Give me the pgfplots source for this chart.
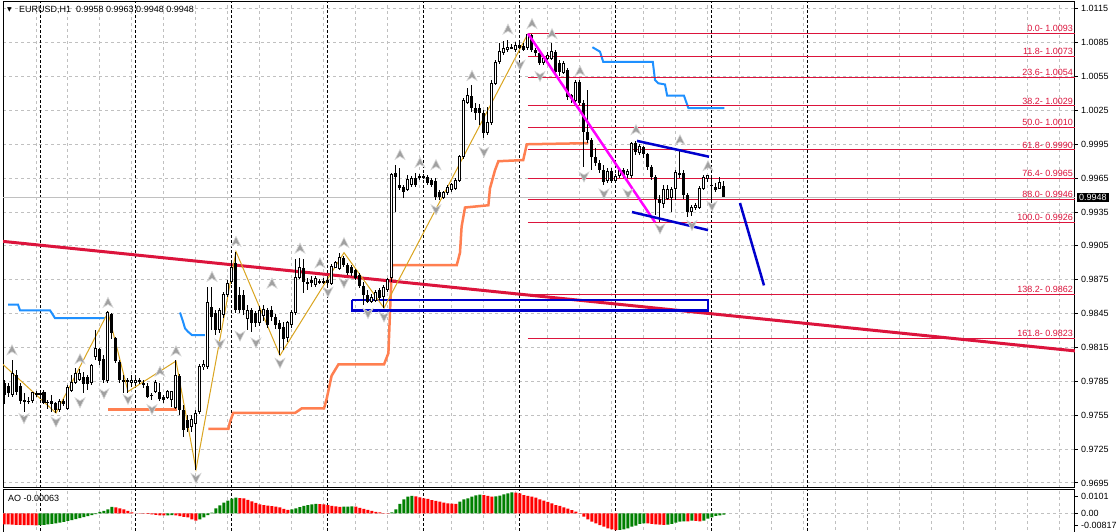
\documentclass[border=0pt]{standalone}
\usepackage{pgfplots}
\pgfplotsset{compat=1.18}
\usepackage{pgfplotstable}
\usepackage{fontspec}
\setmainfont{Liberation Sans}
\newfontfamily\symfont{DejaVu Sans}

\definecolor{crim}{RGB}{220,20,60}
\definecolor{mtblue}{RGB}{0,0,205}
\definecolor{dblue}{RGB}{30,144,255}
\definecolor{coralc}{RGB}{255,127,80}
\definecolor{zigzag}{RGB}{218,165,32}
\definecolor{mag}{RGB}{255,0,255}
\definecolor{gridc}{RGB}{192,192,192}
\definecolor{aogreen}{RGB}{0,128,0}
\definecolor{aored}{RGB}{255,0,0}
\definecolor{fracfill}{RGB}{160,160,160}
\definecolor{fracline}{RGB}{215,215,215}

\pgfdeclareplotmark{fup}{%
  \pgfpathmoveto{\pgfqpoint{0pt}{5pt}}%
  \pgfpathlineto{\pgfqpoint{5pt}{-5pt}}%
  \pgfpathlineto{\pgfqpoint{0pt}{-2pt}}%
  \pgfpathlineto{\pgfqpoint{-5pt}{-5pt}}%
  \pgfpathclose\pgfusepathqfillstroke}
\pgfdeclareplotmark{fdown}{%
  \pgfpathmoveto{\pgfqpoint{0pt}{-5pt}}%
  \pgfpathlineto{\pgfqpoint{5pt}{5pt}}%
  \pgfpathlineto{\pgfqpoint{0pt}{2pt}}%
  \pgfpathlineto{\pgfqpoint{-5pt}{5pt}}%
  \pgfpathclose\pgfusepathqfillstroke}

% EURUSD H1 candles: bar index, open, high, low, close
\pgfplotstableread{
k o h l c
0 0.9784 0.9786 0.9765 0.9773
1 0.9781 0.9784 0.9771 0.9775
2 0.9773 0.9804 0.9771 0.9792
3 0.9791 0.9795 0.9773 0.9776
4 0.9781 0.9784 0.9765 0.9768
5 0.9769 0.9775 0.9758 0.9767
6 0.9768 0.9771 0.9765 0.9767
7 0.9768 0.9776 0.9766 0.9775
8 0.9775 0.9777 0.9771 0.9773
9 0.9775 0.9777 0.9769 0.9773
10 0.9776 0.9777 0.9765 0.9766
11 0.9767 0.9769 0.9761 0.9766
12 0.9768 0.9773 0.9758 0.9765
13 0.9766 0.9767 0.9757 0.9760
14 0.9760 0.9769 0.9758 0.9767
15 0.9768 0.9769 0.9763 0.9765
16 0.9761 0.9782 0.9760 0.9780
17 0.9777 0.9791 0.9776 0.9784
18 0.9784 0.9797 0.9783 0.9792
19 0.9787 0.9796 0.9785 0.9792
20 0.9789 0.9793 0.9775 0.9783
21 0.9789 0.9791 0.9777 0.9783
22 0.9784 0.9800 0.9782 0.9799
23 0.9807 0.9831 0.9804 0.9814
24 0.9814 0.9815 0.9800 0.9803
25 0.9805 0.9808 0.9784 0.9786
26 0.9786 0.9847 0.9784 0.9846
27 0.9845 0.9846 0.9823 0.9828
28 0.9823 0.9824 0.9801 0.9803
29 0.9802 0.9804 0.9784 0.9786
30 0.9786 0.9791 0.9775 0.9785
31 0.9785 0.9788 0.9775 0.9786
32 0.9784 0.9791 0.9780 0.9786
33 0.9784 0.9789 0.9781 0.9786
34 0.9785 0.9788 0.9783 0.9786
35 0.9784 0.9786 0.9779 0.9782
36 0.9781 0.9784 0.9770 0.9771
37 0.9773 0.9775 0.9769 0.9772
38 0.9776 0.9786 0.9775 0.9784
39 0.9776 0.9784 0.9768 0.9769
40 0.9771 0.9773 0.9766 0.9769
41 0.9771 0.9777 0.9769 0.9776
42 0.9769 0.9777 0.9762 0.9776
43 0.9762 0.9804 0.9761 0.9790
44 0.9790 0.9792 0.9755 0.9760
45 0.9760 0.9764 0.9736 0.9742
46 0.9751 0.9755 0.9740 0.9744
47 0.9745 0.9755 0.9740 0.9751
48 0.9748 0.9760 0.9707 0.9757
49 0.9758 0.9800 0.9756 0.9798
50 0.9798 0.9804 0.9795 0.9800
51 0.9798 0.9869 0.9796 0.9855
52 0.9851 0.9869 0.9831 0.9842
53 0.9846 0.9848 0.9826 0.9831
54 0.9831 0.9850 0.9828 0.9848
55 0.9844 0.9864 0.9841 0.9862
56 0.9862 0.9875 0.9860 0.9872
57 0.9873 0.9893 0.9871 0.9886
58 0.9890 0.9900 0.9846 0.9848
59 0.9862 0.9869 0.9846 0.9848
60 0.9862 0.9866 0.9844 0.9848
61 0.9841 0.9853 0.9831 0.9848
62 0.9848 0.9850 0.9829 0.9837
63 0.9846 0.9847 0.9833 0.9837
64 0.9837 0.9852 0.9834 0.9848
65 0.9843 0.9853 0.9839 0.9849
66 0.9848 0.9850 0.9832 0.9835
67 0.9848 0.9852 0.9839 0.9842
68 0.9842 0.9845 0.9831 0.9835
69 0.9837 0.9839 0.9808 0.9831
70 0.9833 0.9838 0.9813 0.9823
71 0.9824 0.9839 0.9820 0.9837
72 0.9835 0.9848 0.9832 0.9846
73 0.9846 0.9893 0.9844 0.9877
74 0.9877 0.9894 0.9876 0.9886
75 0.9885 0.9893 0.9863 0.9873
76 0.9873 0.9877 0.9866 0.9872
77 0.9875 0.9878 0.9869 0.9872
78 0.9871 0.9878 0.9869 0.9876
79 0.9874 0.9876 0.9871 0.9873
80 0.9874 0.9877 0.9871 0.9873
81 0.9875 0.9877 0.9869 0.9872
82 0.9872 0.9889 0.9870 0.9887
83 0.9886 0.9892 0.9885 0.9890
84 0.9885 0.9899 0.9884 0.9895
85 0.9894 0.9896 0.9886 0.9888
86 0.9888 0.9890 0.9879 0.9881
87 0.9886 0.9888 0.9878 0.9881
88 0.9884 0.9885 0.9875 0.9877
89 0.9879 0.9881 0.9868 0.9870
90 0.9870 0.9873 0.9853 0.9862
91 0.9862 0.9866 0.9854 0.9855
92 0.9856 0.9862 0.9854 0.9859
93 0.9857 0.9866 0.9855 0.9864
94 0.9866 0.9868 0.9857 0.9859
95 0.9860 0.9870 0.9850 0.9868
96 0.9866 0.9877 0.9864 0.9875
97 0.9877 0.9970 0.9873 0.9968
98 0.9970 0.9977 0.9935 0.9966
99 0.9959 0.9974 0.9955 0.9956
100 0.9957 0.9959 0.9947 0.9953
101 0.9955 0.9968 0.9954 0.9964
102 0.9959 0.9967 0.9957 0.9965
103 0.9965 0.9970 0.9957 0.9959
104 0.9967 0.9969 0.9963 0.9966
105 0.9966 0.9969 0.9964 0.9967
106 0.9966 0.9968 0.9959 0.9961
107 0.9963 0.9965 0.9957 0.9959
108 0.9963 0.9965 0.9946 0.9948
109 0.9953 0.9955 0.9946 0.9948
110 0.9948 0.9954 0.9947 0.9952
111 0.9952 0.9959 0.9950 0.9957
112 0.9955 0.9961 0.9953 0.9959
113 0.9956 0.9965 0.9955 0.9963
114 0.9963 0.9986 0.9962 0.9984
115 0.9984 1.0036 0.9982 1.0034
116 1.0032 1.0045 1.0031 1.0038
117 1.0038 1.0048 1.0024 1.0027
118 1.0027 1.0032 1.0017 1.0023
119 1.0027 1.0031 1.0012 1.0023
120 1.0023 1.0025 1.0001 1.0005
121 1.0005 1.0028 1.0003 1.0014
122 1.0014 1.0052 1.0012 1.0049
123 1.0049 1.0070 1.0048 1.0068
124 1.0068 1.0085 1.0066 1.0077
125 1.0076 1.0087 1.0074 1.0080
126 1.0079 1.0087 1.0077 1.0081
127 1.0080 1.0084 1.0079 1.0081
128 1.0079 1.0086 1.0077 1.0083
129 1.0083 1.0085 1.0079 1.0080
130 1.0082 1.0085 1.0078 1.0079
131 1.0081 1.0093 1.0079 1.0092
132 1.0092 1.0093 1.0077 1.0079
133 1.0079 1.0080 1.0073 1.0076
134 1.0076 1.0078 1.0065 1.0067
135 1.0067 1.0073 1.0065 1.0071
136 1.0071 1.0077 1.0070 1.0074
137 1.0071 1.0085 1.0070 1.0077
138 1.0077 1.0079 1.0056 1.0059
139 1.0067 1.0070 1.0056 1.0059
140 1.0059 1.0069 1.0057 1.0067
141 1.0061 1.0063 1.0034 1.0037
142 1.0039 1.0040 1.0032 1.0036
143 1.0034 1.0052 1.0032 1.0050
144 1.0050 1.0052 1.0030 1.0032
145 1.0032 1.0034 0.9975 1.0006
146 1.0006 1.0043 0.9996 0.9999
147 0.9999 1.0001 0.9972 0.9984
148 0.9984 0.9992 0.9976 0.9978
149 0.9978 0.9981 0.9970 0.9972
150 0.9972 0.9977 0.9959 0.9962
151 0.9963 0.9974 0.9961 0.9971
152 0.9971 0.9974 0.9961 0.9963
153 0.9963 0.9969 0.9962 0.9967
154 0.9967 0.9974 0.9965 0.9972
155 0.9972 0.9974 0.9965 0.9968
156 0.9968 0.9973 0.9965 0.9971
157 0.9967 0.9997 0.9965 0.9996
158 0.9996 0.9998 0.9986 0.9988
159 0.9988 0.9995 0.9986 0.9993
160 0.9993 0.9994 0.9983 0.9986
161 0.9986 0.9987 0.9972 0.9975
162 0.9975 0.9977 0.9963 0.9966
163 0.9966 0.9968 0.9932 0.9947
164 0.9947 0.9950 0.9926 0.9943
165 0.9943 0.9959 0.9939 0.9955
166 0.9947 0.9959 0.9946 0.9955
167 0.9948 0.9957 0.9935 0.9955
168 0.9956 0.9972 0.9946 0.9970
169 0.9970 0.9990 0.9965 0.9968
170 0.9970 0.9972 0.9947 0.9950
171 0.9950 0.9952 0.9931 0.9935
172 0.9935 0.9941 0.9932 0.9939
173 0.9939 0.9943 0.9937 0.9941
174 0.9939 0.9958 0.9938 0.9956
175 0.9956 0.9968 0.9955 0.9966
176 0.9965 0.9968 0.9962 0.9967
177 0.9959 0.9966 0.9946 0.9958
178 0.9957 0.9961 0.9953 0.9955
179 0.9956 0.9966 0.9955 0.9961
180 0.9958 0.9963 0.9948 0.9948
}\candles

% Awesome Oscillator: value, up=1 green / 0 red
\pgfplotstableread{
k v up
0 -0.00521 0
1 -0.00531 0
2 -0.00540 0
3 -0.00545 0
4 -0.00550 0
5 -0.00555 0
6 -0.00559 0
7 -0.00564 0
8 -0.00569 0
9 -0.00559 1
10 -0.00545 1
11 -0.00521 1
12 -0.00498 1
13 -0.00474 1
14 -0.00441 1
15 -0.00403 1
16 -0.00365 1
17 -0.00322 1
18 -0.00275 1
19 -0.00228 1
20 -0.00180 1
21 -0.00133 1
22 -0.00085 1
23 -0.00038 1
24 0.00071 1
25 0.00119 1
26 0.00190 1
27 0.00308 1
28 0.00284 0
29 0.00237 0
30 0.00190 0
31 0.00109 0
32 0.00038 0
33 -0.00009 0
34 -0.00014 0
35 -0.00019 0
36 -0.00024 0
37 -0.00047 0
38 -0.00076 0
39 -0.00095 0
40 -0.00104 0
41 -0.00095 1
42 -0.00085 1
43 -0.00104 0
44 -0.00133 0
45 -0.00166 0
46 -0.00199 0
47 -0.00284 0
48 -0.00346 0
49 -0.00284 1
50 -0.00190 1
51 -0.00081 1
52 0.00033 1
53 0.00237 1
54 0.00379 1
55 0.00507 1
56 0.00602 1
57 0.00697 1
58 0.00744 1
59 0.00725 0
60 0.00702 0
61 0.00640 0
62 0.00569 0
63 0.00498 0
64 0.00427 0
65 0.00389 0
66 0.00360 0
67 0.00341 0
68 0.00318 0
69 0.00275 0
70 0.00213 0
71 0.00166 0
72 0.00180 1
73 0.00237 1
74 0.00294 1
75 0.00346 1
76 0.00389 1
77 0.00427 1
78 0.00450 1
79 0.00436 0
80 0.00417 0
81 0.00389 0
82 0.00356 0
83 0.00327 0
84 0.00308 0
85 0.00313 1
86 0.00322 1
87 0.00332 1
88 0.00322 0
89 0.00261 0
90 0.00213 0
91 0.00166 0
92 0.00119 0
93 0.00071 0
94 0.00038 0
95 0.00014 0
96 0.00005 0
97 0.00047 1
98 0.00190 1
99 0.00441 1
100 0.00664 1
101 0.00787 1
102 0.00820 1
103 0.00806 0
104 0.00758 0
105 0.00711 0
106 0.00687 0
107 0.00630 0
108 0.00583 0
109 0.00550 0
110 0.00502 0
111 0.00474 0
112 0.00455 0
113 0.00441 0
114 0.00550 1
115 0.00664 1
116 0.00711 1
117 0.00787 1
118 0.00853 1
119 0.00882 1
120 0.00867 0
121 0.00820 0
122 0.00787 0
123 0.00801 1
124 0.00834 1
125 0.00901 1
126 0.00948 1
127 0.00995 1
128 0.00976 0
129 0.00948 0
130 0.00867 0
131 0.00820 0
132 0.00787 0
133 0.00739 0
134 0.00664 0
135 0.00597 0
136 0.00536 0
137 0.00474 0
138 0.00393 0
139 0.00346 0
140 0.00284 0
141 0.00218 0
142 0.00156 0
143 0.00076 0
144 -0.00014 0
145 -0.00161 0
146 -0.00284 0
147 -0.00398 0
148 -0.00474 0
149 -0.00555 0
150 -0.00635 0
151 -0.00711 0
152 -0.00758 0
153 -0.00792 0
154 -0.00782 1
155 -0.00758 1
156 -0.00711 1
157 -0.00635 1
158 -0.00588 1
159 -0.00507 1
160 -0.00474 1
161 -0.00483 0
162 -0.00507 0
163 -0.00521 0
164 -0.00540 0
165 -0.00545 0
166 -0.00536 1
167 -0.00507 1
168 -0.00446 1
169 -0.00398 1
170 -0.00379 1
171 -0.00384 0
172 -0.00351 1
173 -0.00356 0
174 -0.00379 0
175 -0.00351 1
176 -0.00256 1
177 -0.00190 1
178 -0.00128 1
179 -0.00095 1
180 -0.00063 1
}\ao

% fractal arrows
\pgfplotstableread{
k p
2 0.9813
19 0.9805
26 0.9855
39 0.9794
43 0.9812
52 0.9878
58 0.9909
67 0.9872
74 0.9903
79 0.9890
85 0.9908
99 0.9986
104 0.9979
108 0.9977
117 1.0056
126 1.0097
132 1.0102
137 1.0093
144 1.0060
158 1.0008
169 0.9999
176 0.9976
}\fracup
\pgfplotstableread{
k p
5 0.9752
13 0.9749
19 0.9766
25 0.9774
31 0.9769
37 0.9760
48 0.9699
54 0.9818
59 0.9825
63 0.9819
69 0.9801
81 0.9864
85 0.9872
91 0.9845
95 0.9842
108 0.9937
120 0.9988
129 1.0065
134 1.0055
145 0.9966
150 0.9951
156 0.9951
164 0.9920
172 0.9923
177 0.9940
}\fracdn

\pgfplotsset{
  mtaxis/.style={
    scale only axis, anchor=south west,
    xmin=-0.25, xmax=267.75,
    axis line style={black, line width=1pt},
    xtick={8,16,...,264}, xticklabels={},
    xtick style={draw=none},
    extra x ticks={9,33,...,201}, extra x tick labels={},
    extra x tick style={xmajorgrids=true,
      major grid style={black, line width=1pt, dash pattern=on 3pt off 2pt}},
    ytick pos=right, yticklabel pos=right,
    tick align=outside, major tick length=3pt,
    ytick style={black, line width=1pt},
    xmajorgrids=true,
    major grid style={gridc, line width=1pt, dash pattern=on 3pt off 3pt},
    ticklabel style={font=\fontsize{9}{10}\selectfont},
    yticklabel style={inner sep=0pt, xshift=3pt},
    scaled y ticks=false,
  },
  candlebar/.style={draw=none, forget plot,
    /pgfplots/error bars/y dir=both,
    /pgfplots/error bars/y explicit,
    /pgfplots/error bars/error mark=none,
    /pgfplots/error bars/error bar style={#1}},
}

\begin{document}
\begin{tikzpicture}[x=1pt,y=1pt]
\useasboundingbox (0,0) rectangle (1117,532);
\fill[white] (0,0) rectangle (1117,532);

\begin{axis}[mtaxis,
  at={(3pt,44.3pt)}, width=1072pt, height=485.7pt,
  ymin=0.969084, ymax=1.012103,
  ymajorgrids=true,
  ytick={0.9695,0.9725,0.9755,0.9785,0.9815,0.9845,0.9875,0.9905,0.9935,0.9965,0.9995,1.0025,1.0055,1.0085,1.0115},
  yticklabel style={/pgf/number format/.cd, fixed, fixed zerofill, precision=4, assume math mode=true},
]
% bid line
\addplot[gridc, line width=1pt] coordinates {(-0.25,0.9948) (267.75,0.9948)};
% step indicators
\addplot[dblue, line width=2pt] coordinates {(1,0.9853) (3.5,0.9853) (4,0.9848) (11.5,0.9848) (12.75,0.9841) (25.25,0.9841)};
\addplot[dblue, line width=2pt] coordinates {(44,0.9846) (44.75,0.9838) (45.25,0.9832) (46,0.9829) (47,0.9826) (50.25,0.9826)};
\addplot[dblue, line width=2pt] coordinates {(147.1,1.0081) (149,1.0077) (149.8,1.0068) (162.2,1.0068) (162.75,1.0052) (163.6,1.0049) (165.25,1.0048) (165.8,1.0038) (170,1.0038) (171.1,1.0027) (180.1,1.0027)};
\addplot[coralc, line width=2.5pt] coordinates {(26.1,0.9760) (43.2,0.9760)};
\addplot[coralc, line width=2.5pt] coordinates {(51.1,0.9743) (56.1,0.9743) (56.5,0.9749) (57.3,0.9757) (72.75,0.9757) (74.4,0.9761) (80,0.9761) (80.7,0.9770) (81.9,0.9790) (83.6,0.9800) (95,0.9800) (96.1,0.9810) (96.5,0.9846) (97,0.9888) (113.2,0.9888) (114,0.9899) (114.4,0.9922) (115.25,0.9939) (121.1,0.9941) (121.5,0.9956) (122.75,0.9972) (123.6,0.9980) (129.8,0.9981) (130.7,0.9995) (146.1,0.9996)};
% long trend line
\addplot[crim, line width=3pt] coordinates {(-0.25,0.9909) (267.75,0.9812)};
% fibonacci levels
\foreach \lev/\txt in {1.0093/0.0- 1.0093, 1.0073/11.8- 1.0073, 1.0054/23.6- 1.0054,
  1.0029/38.2- 1.0029, 1.0010/50.0- 1.0010, 0.9990/61.8- 0.9990, 0.9965/76.4- 0.9965,
  0.9946/88.0- 0.9946, 0.9926/100.0- 0.9926, 0.9862/138.2- 0.9862, 0.9823/161.8- 0.9823}{
  \edef\temp{\noexpand\addplot[crim, line width=1pt] coordinates {(131,\lev) (267.75,\lev)};
    \noexpand\node[anchor=south east, inner sep=0pt, text=crim, font=\noexpand\fontsize{9}{10}\noexpand\selectfont]
      at (axis cs:267.3,\lev) [yshift=1.5pt] {\txt};}
  \temp
}
% zone rectangle
\addplot[mtblue, line width=2.5pt] coordinates {(87,0.9857) (176,0.9857) (176,0.9848) (87,0.9848) (87,0.9857)};
% zigzag
\addplot[zigzag, line width=1pt] coordinates {(-0.25,0.9800) (13,0.9757) (26,0.9846) (31,0.9776) (43,0.9803) (48,0.9707) (58,0.9900) (69,0.9808) (85,0.9899) (95,0.9850) (131,1.0093)};
% candles: wicks
\addplot[candlebar={draw=black, line width=1pt}]
  table[x=k, y expr={(\thisrow{h}+\thisrow{l})/2}, y error expr={(\thisrow{h}-\thisrow{l})/2}] {\candles};
% bearish bodies
\addplot[candlebar={draw=black, line width=3pt},
  restrict expr to domain={\thisrow{o}-\thisrow{c}}{0:1}]
  table[x=k, y expr={(\thisrow{o}+\thisrow{c})/2}, y error expr={max(abs(\thisrow{o}-\thisrow{c})/2,0.00005)}] {\candles};
% bullish bodies: outline then white fill
\addplot[candlebar={draw=black, line width=3pt},
  restrict expr to domain={\thisrow{c}-\thisrow{o}}{0.00001:1}]
  table[x=k, y expr={(\thisrow{o}+\thisrow{c})/2}, y error expr={(\thisrow{c}-\thisrow{o})/2+0.00004}] {\candles};
\addplot[candlebar={draw=white, line width=1pt},
  restrict expr to domain={\thisrow{c}-\thisrow{o}}{0.00019:1}]
  table[x=k, y expr={(\thisrow{o}+\thisrow{c})/2}, y error expr={(\thisrow{c}-\thisrow{o})/2-0.00005}] {\candles};
% magenta swing line and channel
\addplot[mag, line width=2.5pt] coordinates {(131,1.0093) (162.75,0.9926)};
\addplot[mtblue, line width=2.5pt] coordinates {(158.25,0.9998) (176.25,0.9984)};
\addplot[mtblue, line width=2.5pt] coordinates {(157,0.9935) (176,0.9919)};
\addplot[mtblue, line width=2.5pt] coordinates {(184,0.9943) (190,0.9870)};
% fractals
\addplot[only marks, mark=fup, mark options={fill=fracfill, draw=fracline, line width=0.6pt}] table[x=k, y=p] {\fracup};
\addplot[only marks, mark=fdown, mark options={fill=fracfill, draw=fracline, line width=0.6pt}] table[x=k, y=p] {\fracdn};
\coordinate (bid) at (axis cs:267.75,0.9948);
\end{axis}

\begin{axis}[mtaxis,
  at={(3pt,-4pt)}, width=1072pt, height=46.7pt,
  ymin=-0.010760, ymax=0.011376,
  ytick={0.00787,0,-0.00555}, yticklabels={0.0101,0.00,-0.00817},
  extra y ticks={0}, extra y tick labels={},
  extra y tick style={ymajorgrids=true, ytick style={draw=none}},
]
\addplot[ybar, bar width=3pt, bar shift=0pt, fill=aogreen, draw=none,
  restrict expr to domain={\thisrow{up}}{0.5:1.5}] table[x=k, y=v] {\ao};
\addplot[ybar, bar width=3pt, bar shift=0pt, fill=aored, draw=none,
  restrict expr to domain={\thisrow{up}}{-0.5:0.5}] table[x=k, y=v] {\ao};
\end{axis}

\node[fill=black, text=white, inner xsep=2.5pt, inner ysep=1pt, anchor=west,
  font=\fontsize{9}{10}\selectfont] at ([xshift=1.5pt]bid) {0.9948};
\node[anchor=west, inner sep=0pt, font=\fontsize{6}{7}\symfont] at (7,522.3) {▼};
\node[anchor=west, inner sep=0pt, font=\fontsize{9}{10}\selectfont] at (19,522.5)
  {EURUSD,H1\ \ 0.9958 0.9963 0.9948 0.9948};
\node[anchor=west, inner sep=0pt, font=\fontsize{9}{10}\selectfont] at (8,34)
  {AO -0.00063};
\end{tikzpicture}
\end{document}
